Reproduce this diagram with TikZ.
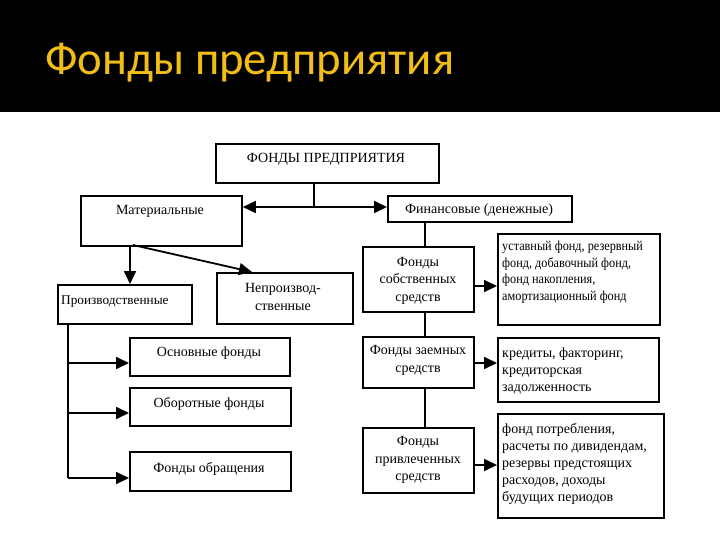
\documentclass[tikz,border=0pt]{standalone}
\usepackage{fontspec}
\setmainfont{Liberation Serif}
\newfontfamily\titlefont{Carlito}
\newfontfamily\condfont[FakeStretch=0.9]{Liberation Serif}
\usetikzlibrary{arrows.meta}
\definecolor{titlegold}{RGB}{242,190,22}
\begin{document}
\begin{tikzpicture}[x=1pt,y=-1pt,
  box/.style={draw=black, line width=1.8pt, inner sep=0pt, anchor=north west, fill=white},
  txt/.style={inner sep=0pt, font=\fontsize{14}{17.5}\selectfont, align=center},
  rtxt/.style={inner sep=0pt, font=\fontsize{14}{17}\selectfont, align=left, anchor=west},
  arr/.style={line width=1.8pt, -{Triangle[length=13pt,width=12pt]}},
  ln/.style={line width=1.8pt}]
\useasboundingbox (0,0) rectangle (720,540);
\fill[black] (0,0) rectangle (720,112);
\node[anchor=base west, inner sep=0pt, text=titlegold, font=\titlefont\fontsize{46.7}{49}\selectfont] (title) at (45,75) {Фонды предприятия};

% boxes
\node[box, minimum width=223, minimum height=39] (top) at (215,143) {};
\node[box, minimum width=161, minimum height=50] (mat) at (80,195) {};
\node[box, minimum width=184, minimum height=26] (fin) at (387,195) {};
\node[box, minimum width=134, minimum height=39] (prod) at (57,284) {};
\node[box, minimum width=136, minimum height=51] (nonprod) at (216,272) {};
\node[box, minimum width=160, minimum height=38] (osn) at (129,337) {};
\node[box, minimum width=161, minimum height=38] (obor) at (129,387) {};
\node[box, minimum width=161, minimum height=39] (obr) at (129,451) {};
\node[box, minimum width=111, minimum height=65] (own) at (362,246) {};
\node[box, minimum width=111, minimum height=51] (loan) at (362,336) {};
\node[box, minimum width=111, minimum height=65] (attr) at (362,427) {};
\node[box, minimum width=162, minimum height=91] (r1) at (497,233) {};
\node[box, minimum width=161, minimum height=64] (r2) at (497,337) {};
\node[box, minimum width=166, minimum height=104] (r3) at (497,413) {};

% texts
\node[txt] (ttop) at (326,159.5) {ФОНДЫ ПРЕДПРИЯТИЯ};
\node[txt] (tmat) at (160,211) {Материальные};
\node[txt] (tfin) at (479,210) {Финансовые (денежные)};
\node[txt, anchor=west, font=\fontsize{13.3}{16}\selectfont] (tprod) at (61,302) {Производственные};
\node[txt] (tnonprod) at (283,297) {Непроизвод-\\ственные};
\node[txt] (tosn) at (209,353) {Основные фонды};
\node[txt] (tobor) at (209,404) {Оборотные фонды};
\node[txt] (tobr) at (209,469) {Фонды обращения};
\node[txt] (town) at (418,280.5) {Фонды\\собственных\\средств};
\node[txt] (tloan) at (418,360.5) {Фонды заемных\\средств};
\node[txt] (tattr) at (418,460) {Фонды\\привлеченных\\средств};
\node[rtxt, font=\condfont\fontsize{13.6}{16.5}\selectfont] (tr1) at (502,272) {уставный фонд, резервный\\фонд, добавочный фонд,\\фонд накопления,\\амортизационный фонд};
\node[rtxt] (tr2) at (502,371) {кредиты, факторинг,\\кредиторская\\задолженность};
\node[rtxt] (tr3) at (502,463.5) {фонд потребления,\\расчеты по дивидендам,\\резервы предстоящих\\расходов, доходы\\будущих периодов};

% connectors
\coordinate (hj) at (314,207);
\draw[ln] (hj |- top.south) -- (hj);
\draw[arr] (hj) -- (mat.east |- hj);
\draw[arr] (hj) -- (fin.west |- hj);

\coordinate (m1) at (130,245);
\coordinate (m2) at (133,245);
\coordinate (npin) at (252,272);
\draw[arr] (m1) -- (m1 |- prod.north);
\draw[arr] (m2) -- (npin);

\coordinate (vx) at (425,0);
\draw[ln] (vx |- fin.south) -- (vx |- own.north);
\draw[ln] (vx |- own.south) -- (vx |- loan.north);
\draw[ln] (vx |- loan.south) -- (vx |- attr.north);

\coordinate (a1) at (0,286);
\coordinate (a2) at (0,363);
\coordinate (a3) at (0,465);
\draw[arr] (own.east |- a1) -- (r1.west |- a1);
\draw[arr] (loan.east |- a2) -- (r2.west |- a2);
\draw[arr] (attr.east |- a3) -- (r3.west |- a3);

\coordinate (px) at (68,0);
\coordinate (b1) at (0,363);
\coordinate (b2) at (0,413);
\coordinate (b3) at (0,478);
\draw[ln] (px |- prod.south) -- (px |- b3);
\draw[arr] (px |- b1) -- (osn.west |- b1);
\draw[arr] (px |- b2) -- (obor.west |- b2);
\draw[arr] (px |- b3) -- (obr.west |- b3);
\end{tikzpicture}
\end{document}
